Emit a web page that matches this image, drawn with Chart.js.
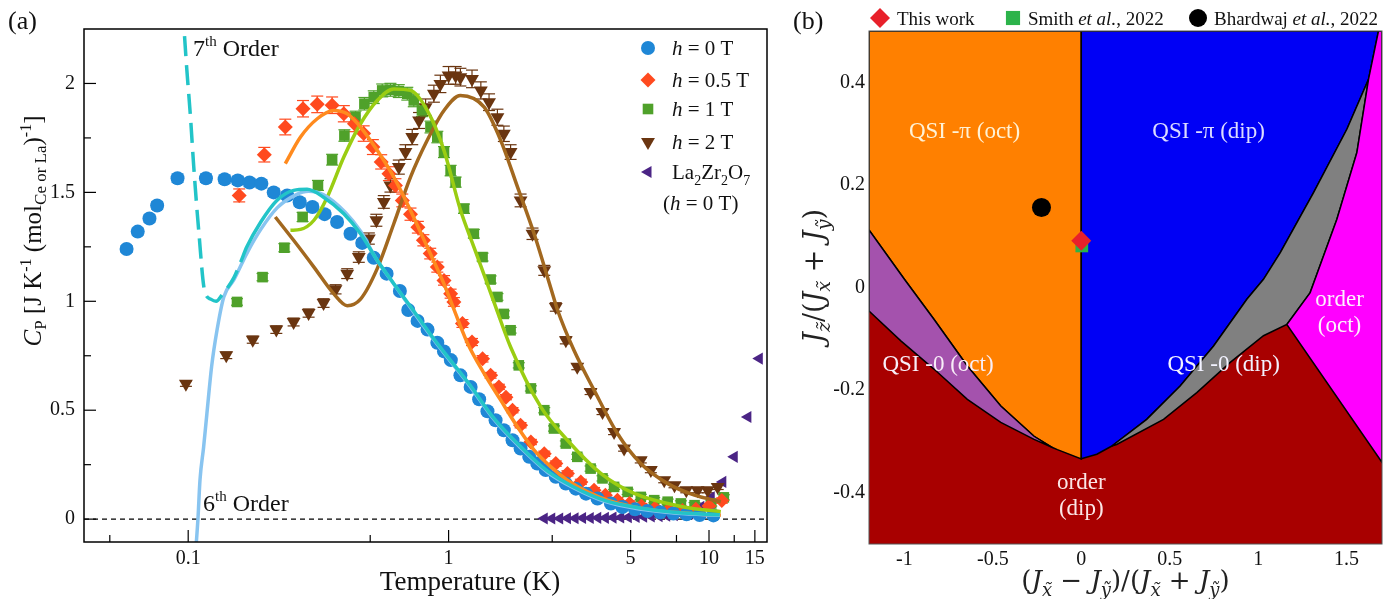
<!DOCTYPE html>
<html>
<head>
<meta charset="utf-8">
<script src="https://cdn.jsdelivr.net/npm/chart.js@4.4.1/dist/chart.umd.min.js"></script>
<style>
  body { margin: 0; background: #fff; width: 1396px; height: 599px; overflow: hidden; position: relative; }
  #wa { position: absolute; left: 0; top: 0; width: 790px; height: 599px; }
  #wb { position: absolute; left: 790px; top: 0; width: 606px; height: 599px; }
</style>
</head>
<body>
<div id="wa"><canvas id="chartA" width="790" height="599"></canvas></div>
<div id="wb"><canvas id="chartB" width="606" height="599"></canvas></div>
<script>
// ---------- panel (a): specific heat ----------
const xTicksA = [0.1, 1, 5, 10, 15];
const xMinorA = [0.05, 0.5, 2.5, 7.5, 12.5];
const yTicksA = [0, 0.5, 1, 1.5, 2];
const yMinorA = [0.25, 0.75, 1.25, 1.75];

// h = 0 T
const blueT = [0.058,0.064,0.071,0.076,0.091,0.117,0.138,0.155,0.172,0.191,0.213,0.24,0.268,0.30,0.334,0.373,0.42,0.466,0.516,0.578,0.65,0.70,0.76,0.83,0.905,0.96,1.02,1.11,1.215,1.31,1.41,1.515,1.63,1.76,1.89,2.04,2.19,2.36,2.58,2.82,3.08,3.37,3.73,4.2,4.65,5.2,5.8,6.5,7.3,8.2,9.2,10.4];
const blueC = [1.24,1.32,1.38,1.44,1.565,1.565,1.56,1.555,1.545,1.54,1.50,1.486,1.455,1.433,1.40,1.364,1.31,1.268,1.20,1.127,1.047,0.96,0.91,0.87,0.81,0.77,0.73,0.66,0.607,0.55,0.495,0.454,0.408,0.362,0.324,0.286,0.255,0.225,0.194,0.163,0.14,0.117,0.095,0.072,0.056,0.045,0.037,0.031,0.026,0.022,0.019,0.017];
// h = 0.5 T
const orangeT = [0.157,0.196,0.236,0.276,0.313,0.357,0.396,0.435,0.472,0.512,0.551,0.59,0.625,0.664,0.714,0.762,0.80,0.85,0.905,0.96,1.018,1.048,1.13,1.23,1.35,1.45,1.56,1.66,1.76,1.89,2.07,2.33,2.58,2.86,3.22,3.62,4.0,4.45,4.95,5.5,6.2,7.0,7.9,8.9,10.0,11.2];
const orangeC = [1.486,1.673,1.80,1.884,1.904,1.90,1.861,1.815,1.77,1.708,1.64,1.586,1.532,1.463,1.40,1.34,1.28,1.219,1.157,1.096,1.035,0.997,0.898,0.813,0.736,0.66,0.607,0.56,0.50,0.431,0.354,0.30,0.255,0.21,0.171,0.133,0.11,0.087,0.072,0.06,0.05,0.043,0.04,0.045,0.06,0.085];
// h = 1 T
const greenT = [0.154,0.193,0.234,0.275,0.315,0.357,0.398,0.439,0.475,0.516,0.556,0.598,0.644,0.694,0.735,0.79,0.852,0.905,0.96,1.018,1.064,1.146,1.25,1.35,1.45,1.54,1.63,1.73,1.86,2.07,2.33,2.54,2.82,3.12,3.51,3.9,4.32,4.87,5.47,6.16,6.94,7.8,8.8,10.2,11.4];
const greenC = [0.997,1.111,1.246,1.387,1.532,1.65,1.761,1.845,1.907,1.937,1.968,1.971,1.965,1.953,1.922,1.876,1.80,1.754,1.685,1.60,1.547,1.425,1.31,1.203,1.10,1.02,0.942,0.867,0.706,0.60,0.50,0.416,0.347,0.286,0.232,0.187,0.148,0.125,0.102,0.087,0.08,0.072,0.064,0.072,0.10];
// h = 2 T
const brownT = [0.098,0.14,0.177,0.218,0.254,0.29,0.331,0.368,0.408,0.452,0.494,0.528,0.564,0.598,0.644,0.683,0.725,0.77,0.816,0.878,0.93,1.0,1.064,1.11,1.23,1.33,1.43,1.54,1.63,1.73,1.89,2.1,2.33,2.58,2.82,3.12,3.51,3.9,4.32,4.72,5.47,5.98,6.73,7.37,8.18,9.04,9.89,10.8];
const brownC = [0.622,0.752,0.824,0.87,0.905,0.946,0.992,1.055,1.127,1.203,1.288,1.372,1.456,1.532,1.616,1.685,1.754,1.83,1.891,1.953,1.998,2.037,2.037,2.029,2.021,1.968,1.914,1.845,1.769,1.685,1.463,1.31,1.142,0.974,0.821,0.70,0.584,0.492,0.40,0.324,0.27,0.225,0.179,0.156,0.133,0.133,0.133,0.148];
// La2Zr2O7, h = 0 T
const laT = [2.33,2.49,2.67,2.86,3.06,3.27,3.5,3.74,4.0,4.28,4.58,4.9,5.25,5.61,6.0,6.43,6.88,7.36,7.88,8.43,9.3,10.2,11.3,12.5,14.1,15.6];
const laC = [0.003,0.003,0.003,0.004,0.004,0.005,0.005,0.006,0.006,0.007,0.008,0.009,0.01,0.011,0.012,0.014,0.016,0.018,0.021,0.025,0.056,0.10,0.171,0.286,0.469,0.737];

// fitted curves
const order7T = [0.0952,0.0987,0.102,0.105,0.11,0.1155,0.122,0.128,0.135,0.15,0.159,0.168,0.19,0.219,0.254,0.286,0.331,0.396,0.459,0.532,0.616,0.72,0.85,1.0,1.2,1.5,1.9,2.4,3.0,4.0,5.5,7.5,11];
const order7C = [2.35,2.07,1.85,1.62,1.31,1.05,1.01,1.0,1.03,1.11,1.18,1.25,1.364,1.463,1.509,1.514,1.478,1.402,1.31,1.188,1.081,0.97,0.85,0.74,0.62,0.46,0.33,0.22,0.15,0.085,0.05,0.03,0.02];
const order6T = [0.1068,0.109,0.111,0.1146,0.118,0.123,0.129,0.137,0.15,0.168,0.19,0.22,0.26,0.29,0.33,0.4,0.46,0.53,0.62,0.72,0.85,1.0,1.2,1.5,1.9,2.4,3.0,4.0,5.5,7.5,11];
const order6C = [-0.15,0.0,0.18,0.33,0.485,0.70,0.867,1.02,1.10,1.22,1.33,1.43,1.49,1.505,1.49,1.41,1.32,1.19,1.075,0.965,0.845,0.735,0.615,0.455,0.325,0.215,0.145,0.08,0.045,0.027,0.018];
const fit05T = [0.236,0.27,0.313,0.362,0.408,0.459,0.532,0.616,0.714,0.828,0.96,1.02,1.18,1.37,1.585,1.84,2.13,2.47,2.86,3.42,4.08,5.16,6.94,9.0,11.1];
const fit05C = [1.632,1.754,1.838,1.876,1.861,1.80,1.693,1.57,1.417,1.249,1.08,1.0,0.81,0.668,0.546,0.423,0.317,0.24,0.179,0.125,0.087,0.056,0.034,0.024,0.018];
const fit1T = [0.247,0.27,0.304,0.342,0.396,0.459,0.532,0.616,0.714,0.828,0.96,1.11,1.25,1.37,1.49,1.73,2.26,2.86,3.84,5.16,8.0,11.1];
const fit1C = [1.326,1.33,1.372,1.478,1.662,1.815,1.922,1.975,1.968,1.876,1.693,1.42,1.25,1.12,1.0,0.79,0.515,0.362,0.21,0.118,0.056,0.034];
const fit2T = [0.216,0.254,0.304,0.362,0.408,0.459,0.532,0.616,0.714,0.828,0.96,1.11,1.37,1.585,1.84,2.13,2.47,2.62,3.03,3.62,4.45,5.47,6.94,8.8,11.1];
const fit2C = [1.387,1.28,1.157,1.035,0.98,1.01,1.15,1.356,1.57,1.739,1.876,1.945,1.891,1.739,1.524,1.31,1.06,0.96,0.775,0.592,0.393,0.255,0.163,0.11,0.08];

// ---------- panel (b): phase diagram ----------
const xTicksB = [-1, -0.5, 0, 0.5, 1, 1.5];
const yTicksB = [-0.4, -0.2, 0, 0.2, 0.4];
const orderDipX = [-1.2, 1.7, 1.7, -1.2, -1.2];
const orderDipY = [0.5, 0.5, -0.5, -0.5, 0.5];
const qsiPiOctX = [-1.2, 0, 0, -0.135, -0.163, -0.267, -0.455, -0.644, -0.833, -1.0, -1.2, -1.2];
const qsiPiOctY = [0.5, 0.5, -0.334, -0.316, -0.312, -0.29, -0.231, -0.153, -0.062, 0.016, 0.112, 0.5];
const qsi0OctX = [-1.2, -1.0, -0.833, -0.644, -0.455, -0.267, -0.163, -0.267, -0.455, -0.644, -0.833, -1.02, -1.2, -1.2];
const qsi0OctY = [0.112, 0.016, -0.062, -0.153, -0.231, -0.29, -0.312, -0.296, -0.263, -0.218, -0.159, -0.104, -0.046, 0.112];
const qsiPiDipX = [0, 1.68, 1.624, 1.502, 1.313, 1.125, 1.03, 0.936, 0.748, 0.559, 0.37, 0.173, 0.088, 0, 0];
const qsiPiDipY = [0.5, 0.5, 0.406, 0.309, 0.185, 0.068, 0.016, -0.023, -0.114, -0.192, -0.257, -0.309, -0.325, -0.334, 0.5];
const qsi0DipX = [0.173, 0.37, 0.559, 0.748, 0.936, 1.03, 1.125, 1.313, 1.502, 1.624, 1.558, 1.445, 1.294, 1.162, 1.03, 0.842, 0.653, 0.465, 0.2, 0.173];
const qsi0DipY = [-0.309, -0.257, -0.192, -0.114, -0.023, 0.016, 0.068, 0.185, 0.309, 0.406, 0.263, 0.133, -0.01, -0.072, -0.094, -0.146, -0.205, -0.257, -0.306, -0.309];
const orderOctX = [1.68, 1.7, 1.7, 1.162, 1.294, 1.445, 1.558, 1.624, 1.68];
const orderOctY = [0.5, 0.5, -0.341, -0.072, -0.01, 0.133, 0.263, 0.406, 0.5];
const thisWork = [0, 0.091];
const smith = [0.003, 0.081];
const bhardwaj = [-0.225, 0.156];

const SERIF = '"Liberation Serif", "Times New Roman", serif';
const MATH = '"DejaVu Serif", serif';
Chart.defaults.font.family = SERIF;

const pts = (xs, ys) => xs.map((x, i) => ({ x: x, y: ys[i] }));

// text with italics / sub / superscripts: parts = [text, italic, scale, shift]
function rich(ctx, parts, x, y, size, align, angle, family) {
  ctx.save();
  ctx.translate(x, y);
  if (angle) ctx.rotate(angle);
  const fam = family || SERIF;
  const fonts = parts.map(p => (p[1] ? 'italic ' : '') + Math.round(size * (p[2] || 1)) + 'px ' + fam);
  let w = 0;
  parts.forEach((p, i) => { ctx.font = fonts[i]; w += ctx.measureText(p[0]).width; });
  let cx = align === 'center' ? -w / 2 : 0;
  ctx.textAlign = 'left';
  ctx.textBaseline = 'alphabetic';
  parts.forEach((p, i) => {
    ctx.font = fonts[i];
    ctx.fillText(p[0], cx, (p[3] || 0) * size);
    cx += ctx.measureText(p[0]).width;
  });
  ctx.restore();
}

function marker(ctx, style, x, y, r, color, rot) {
  ctx.save();
  ctx.fillStyle = color;
  Chart.helpers.drawPoint(ctx, { pointStyle: style, radius: r, rotation: rot || 0, borderWidth: 0 }, x, y);
  ctx.restore();
}

function line(ctx, x1, y1, x2, y2) {
  ctx.beginPath(); ctx.moveTo(x1, y1); ctx.lineTo(x2, y2); ctx.stroke();
}

const errorBars = {
  id: 'errorBars',
  beforeDatasetsDraw(chart) {
    const ctx = chart.ctx, ys = chart.scales.y, a = chart.chartArea;
    ctx.save();
    ctx.beginPath(); ctx.rect(a.left, a.top, a.width, a.height); ctx.clip();
    chart.data.datasets.forEach((ds, i) => {
      if (!ds.errFrac) return;
      ctx.strokeStyle = ds.pointBackgroundColor;
      ctx.lineWidth = 1.2;
      chart.getDatasetMeta(i).data.forEach((p, j) => {
        const v = ds.data[j].y, e = Math.max(0.012, v * ds.errFrac);
        const y1 = ys.getPixelForValue(v + e), y2 = ys.getPixelForValue(v - e);
        line(ctx, p.x, y1, p.x, y2);
        line(ctx, p.x - 6, y1, p.x + 6, y1);
        line(ctx, p.x - 6, y2, p.x + 6, y2);
      });
    });
    ctx.restore();
  }
};

const legendA = [
  { parts: [['h', 1], [' = 0 T']], style: 'circle', r: 7, color: '#1f87d6', rot: 0, y: 48 },
  { parts: [['h', 1], [' = 0.5 T']], style: 'rectRot', r: 7.5, color: '#ff4a1f', rot: 0, y: 80 },
  { parts: [['h', 1], [' = 1 T']], style: 'rect', r: 7.5, color: '#4fa12a', rot: 0, y: 109 },
  { parts: [['h', 1], [' = 2 T']], style: 'triangle', r: 8, color: '#6a3510', rot: 180, y: 142 },
  { parts: [['La'], ['2', 0, 0.65, 0.3], ['Zr'], ['2', 0, 0.65, 0.3], ['O'], ['7', 0, 0.65, 0.3]], style: 'triangle', r: 7, color: '#4b2485', rot: 270, y: 172 }
];

const decorA = {
  id: 'decorA',
  afterDraw(chart) {
    const ctx = chart.ctx, a = chart.chartArea, xs = chart.scales.x, ys = chart.scales.y;
    ctx.save();
    ctx.strokeStyle = '#000';
    ctx.lineWidth = 1.5;
    ctx.strokeRect(a.left, a.top, a.width, a.height);
    ctx.lineWidth = 1.2;
    yTicksA.forEach(v => { const p = ys.getPixelForValue(v); line(ctx, a.left, p, a.left + 12, p); });
    yMinorA.forEach(v => { const p = ys.getPixelForValue(v); line(ctx, a.left, p, a.left + 7, p); });
    xTicksA.forEach(v => { const p = xs.getPixelForValue(v); line(ctx, p, a.bottom, p, a.bottom - 12); });
    xMinorA.forEach(v => { const p = xs.getPixelForValue(v); line(ctx, p, a.bottom, p, a.bottom - 7); });

    ctx.fillStyle = '#111';
    rich(ctx, [['(a)']], 8, 29, 26);
    rich(ctx, [['7'], ['th', 0, 0.62, -0.42], [' Order']], 193, 56, 24);
    rich(ctx, [['6'], ['th', 0, 0.62, -0.42], [' Order']], 203, 511, 24);
    rich(ctx, [['Temperature (K)']], 470, 590, 27, 'center');
    rich(ctx, [['C', 1], ['P', 0, 0.68, 0.18], [' [J K'], ['-1', 0, 0.65, -0.42], [' (mol'],
      ['Ce or La', 0, 0.68, 0.18], [')'], ['-1', 0, 0.65, -0.42], [']']], 41, 231, 25, 'center', -Math.PI / 2);

    legendA.forEach(it => {
      marker(ctx, it.style, 648, it.y, it.r, it.color, it.rot);
      ctx.fillStyle = '#111';
      rich(ctx, it.parts, 672, it.y + 7, 21);
    });
    rich(ctx, [['('], ['h', 1], [' = 0 T)']], 663, 210, 21);
    ctx.restore();
  }
};

const curve = (label, T, C, color, extra) => Object.assign({
  label: label, data: pts(T, C), showLine: true, borderColor: color, borderWidth: 3.5,
  pointRadius: 0, fill: false, cubicInterpolationMode: 'monotone', clip: 0
}, extra || {});

const marks = (label, T, C, style, r, color, rot, err) => ({
  label: label, data: pts(T, C), showLine: false, pointStyle: style, pointRadius: r,
  pointRotation: rot, pointBackgroundColor: color, pointBorderWidth: 0, errFrac: err
});

new Chart(document.getElementById('chartA'), {
  type: 'scatter',
  data: {
    datasets: [
      curve('7th order', order7T, order7C, '#22c4c8', {
        segment: { borderDash: c => c.p0.parsed.x < 0.158 ? [20, 9] : undefined }
      }),
      curve('6th order', order6T, order6C, '#88c4f0'),
      curve('fit 0.5 T', fit05T, fit05C, '#ff8a1e'),
      curve('fit 1 T', fit1T, fit1C, '#9acd12'),
      curve('fit 2 T', fit2T, fit2C, '#a2681f'),
      marks('h = 0 T', blueT, blueC, 'circle', 7, '#1f87d6', 0, 0.012),
      marks('h = 0.5 T', orangeT, orangeC, 'rectRot', 7.5, '#ff4a1f', 0, 0.02),
      marks('h = 1 T', greenT, greenC, 'rect', 7.5, '#4fa12a', 0, 0.015),
      marks('h = 2 T', brownT, brownC, 'triangle', 8, '#6a3510', 180, 0.02),
      marks('La2Zr2O7', laT, laC, 'triangle', 7, '#4b2485', 270, 0),
      { label: 'zero', data: pts([0.0398, 16.7], [0, 0]), showLine: true, borderColor: '#000',
        borderWidth: 1.3, borderDash: [5, 4], pointRadius: 0 }
    ]
  },
  options: {
    responsive: false,
    animation: false,
    events: [],
    layout: { padding: { left: 0, right: 23, top: 29, bottom: 0 } },
    plugins: { legend: { display: false }, tooltip: { enabled: false } },
    scales: {
      x: {
        type: 'logarithmic', min: 0.0398, max: 16.7,
        afterBuildTicks: s => { s.ticks = xTicksA.map(v => ({ value: v })); },
        afterFit: s => { s.height = 57; },
        grid: { display: false, drawTicks: false },
        border: { display: false },
        ticks: { callback: v => String(v), font: { size: 20 }, color: '#111', padding: 5, maxRotation: 0, autoSkip: false }
      },
      y: {
        min: -0.105, max: 2.25,
        afterBuildTicks: s => { s.ticks = yTicksA.map(v => ({ value: v })); },
        afterFit: s => { s.width = 84; },
        grid: { display: false, drawTicks: false },
        border: { display: false },
        ticks: { callback: v => String(v), font: { size: 20 }, color: '#111', padding: 9 }
      }
    }
  },
  plugins: [errorBars, decorA]
});

// ---------- chart (b) ----------
const regionLabels = [
  { lines: ['QSI -\u03c0 (oct)'], x: -0.66, y: 0.291, color: '#fff2d6' },
  { lines: ['QSI -\u03c0 (dip)'], x: 0.72, y: 0.291, color: '#dcdcff' },
  { lines: ['QSI -0 (oct)'], x: -0.81, y: -0.163, color: '#f8eef8' },
  { lines: ['QSI -0 (dip)'], x: 0.805, y: -0.163, color: '#f2f2ff' },
  { lines: ['order', '(oct)'], x: 1.46, y: -0.0365, color: '#fdf0fd' },
  { lines: ['order', '(dip)'], x: 0, y: -0.392, color: '#fbe6e6' }
];

const legendB = [
  { parts: [['This work']], style: 'rectRot', r: 10, color: '#e8202a', mx: 90, tx: 107 },
  { parts: [['Smith '], ['et al.', 1], [', 2022']], style: 'rect', r: 10, color: '#2cb34a', mx: 223, tx: 238 },
  { parts: [['Bhardwaj '], ['et al.', 1], [', 2022']], style: 'circle', r: 9, color: '#000', mx: 408, tx: 424 }
];

const decorB = {
  id: 'decorB',
  afterDatasetsDraw(chart) {
    const ctx = chart.ctx, xs = chart.scales.x, ys = chart.scales.y;
    ctx.save();
    regionLabels.forEach(l => {
      ctx.fillStyle = l.color;
      const px = xs.getPixelForValue(l.x), py = ys.getPixelForValue(l.y);
      l.lines.forEach((t, i) => rich(ctx, [[t]], px, py + i * 26, 23, 'center'));
    });
    ctx.restore();
  },
  afterDraw(chart) {
    const ctx = chart.ctx, a = chart.chartArea;
    ctx.save();
    ctx.strokeStyle = '#555';
    ctx.lineWidth = 1;
    ctx.strokeRect(a.left, a.top, a.width, a.height);
    ctx.fillStyle = '#111';
    rich(ctx, [['(b)']], 3, 29, 26);
    legendB.forEach(it => {
      marker(ctx, it.style, it.mx, 18, it.r, it.color, 0);
      ctx.fillStyle = '#111';
      rich(ctx, it.parts, it.tx, 25, 19);
    });
    ctx.fillStyle = '#222';
    const sub = t => [t, 1, 0.7, 0.25];
    rich(ctx, [['('], ['J', 1], sub('x\u0303'), [' \u2212 '], ['J', 1], sub('\u1ef9'), [')/('],
      ['J', 1], sub('x\u0303'), [' + '], ['J', 1], sub('\u1ef9'), [')']],
      (a.left + a.right) / 2, 589, 26, 'center', 0, MATH);
    rich(ctx, [['J', 1], sub('z\u0303'), ['/('], ['J', 1], sub('x\u0303'), [' + '], ['J', 1], sub('\u1ef9'), [')']],
      33, 276, 27, 'center', -Math.PI / 2, MATH);
    ctx.restore();
  }
};

const region = (label, xsArr, ysArr, color, bw) => ({
  type: 'line', label: label, data: pts(xsArr, ysArr), backgroundColor: color,
  borderColor: '#000', borderWidth: bw, pointRadius: 0, fill: 'shape', tension: 0
});

new Chart(document.getElementById('chartB'), {
  type: 'scatter',
  data: {
    datasets: [
      { label: 'This work', data: pts([thisWork[0]], [thisWork[1]]), pointStyle: 'rectRot', pointRadius: 10, pointBackgroundColor: '#e8202a', pointBorderWidth: 0 },
      { label: 'Smith et al., 2022', data: pts([smith[0]], [smith[1]]), pointStyle: 'rect', pointRadius: 9, pointBackgroundColor: '#2cb34a', pointBorderWidth: 0 },
      { label: 'Bhardwaj et al., 2022', data: pts([bhardwaj[0]], [bhardwaj[1]]), pointStyle: 'circle', pointRadius: 9.5, pointBackgroundColor: '#000', pointBorderWidth: 0 },
      region('order (oct)', orderOctX, orderOctY, '#ff00ff', 1.5),
      region('QSI-0 (dip)', qsi0DipX, qsi0DipY, '#808080', 1.5),
      region('QSI-0 (oct)', qsi0OctX, qsi0OctY, '#a452ad', 1.5),
      region('QSI-pi (dip)', qsiPiDipX, qsiPiDipY, '#0000f5', 1.5),
      region('QSI-pi (oct)', qsiPiOctX, qsiPiOctY, '#ff8000', 1.5),
      region('order (dip)', orderDipX, orderDipY, '#a80000', 0)
    ]
  },
  options: {
    responsive: false,
    animation: false,
    events: [],
    layout: { padding: { left: 0, right: 14, top: 31, bottom: 0 } },
    plugins: { legend: { display: false }, tooltip: { enabled: false } },
    scales: {
      x: {
        type: 'linear', min: -1.2, max: 1.7,
        afterBuildTicks: s => { s.ticks = xTicksB.map(v => ({ value: v })); },
        afterFit: s => { s.height = 55; },
        grid: { display: false, drawTicks: false },
        border: { display: false },
        ticks: { callback: v => String(v), font: { size: 20 }, color: '#111', padding: 4, maxRotation: 0, autoSkip: false }
      },
      y: {
        min: -0.5, max: 0.5,
        afterBuildTicks: s => { s.ticks = yTicksB.map(v => ({ value: v })); },
        afterFit: s => { s.width = 79; },
        grid: { display: false, drawTicks: false },
        border: { display: false },
        ticks: { callback: v => String(v), font: { size: 20 }, color: '#111', padding: 4 }
      }
    }
  },
  plugins: [decorB]
});
</script>
</body>
</html>
